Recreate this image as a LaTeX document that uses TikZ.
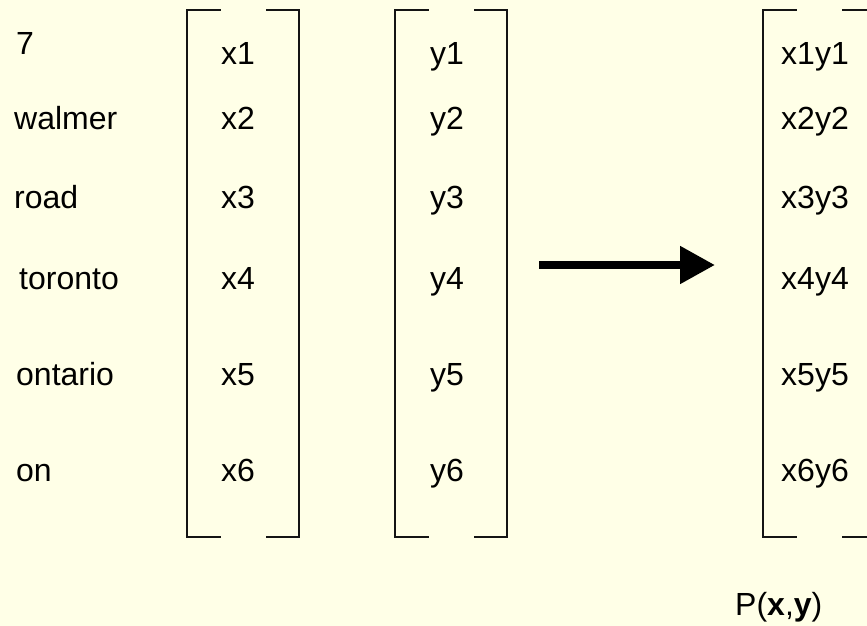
\documentclass[tikz,border=0pt]{standalone}
\usepackage{fontspec}
\setmainfont{Liberation Sans}
\usetikzlibrary{arrows.meta}
\definecolor{bg}{RGB}{255,255,231}
\definecolor{ink}{RGB}{20,20,20}
\tikzset{
  lbl/.style={anchor=base west, inner sep=0pt, font=\fontsize{32}{38}\selectfont, text=black},
  brk/.style={draw=ink, line width=2pt, line cap=rect},
  bigarrow/.style={line width=8pt, -{Triangle[length=35pt,width=36pt]}, black}
}
\begin{document}
\begin{tikzpicture}[x=1pt,y=-1pt]
\fill[bg] (0,0) rectangle (867,626);
\useasboundingbox (0,0) rectangle (867,626);
\clip (0,0) rectangle (867,626);
% words
\node[lbl] (w1) at (16,55) {7};
\node[lbl] (w2) at (14,129) {walmer};
\node[lbl] (w3) at (14,208) {road};
\node[lbl] (w4) at (19,289) {toronto};
\node[lbl] (w5) at (16,385) {ontario};
\node[lbl] (w6) at (16,481) {on};
% column x
\node[lbl] (x1) at (221,65) {x1};
\node[lbl] (x2) at (221,129) {x2};
\node[lbl] (x3) at (221,208) {x3};
\node[lbl] (x4) at (221,289) {x4};
\node[lbl] (x5) at (221,385) {x5};
\node[lbl] (x6) at (221,481) {x6};
% column y
\node[lbl] (y1) at (430,65) {y1};
\node[lbl] (y2) at (430,129) {y2};
\node[lbl] (y3) at (430,208) {y3};
\node[lbl] (y4) at (430,289) {y4};
\node[lbl] (y5) at (430,385) {y5};
\node[lbl] (y6) at (430,481) {y6};
% column xy
\node[lbl] (p1) at (781,65) {x1y1};
\node[lbl] (p2) at (781,129) {x2y2};
\node[lbl] (p3) at (781,208) {x3y3};
\node[lbl] (p4) at (781,289) {x4y4};
\node[lbl] (p5) at (781,385) {x5y5};
\node[lbl] (p6) at (781,481) {x6y6};
\node[lbl] (P) at (735,615) {P(\textbf{x},\textbf{y})};
% brackets
\draw[brk] (220,10) -- (187,10) -- (187,537) -- (220,537);
\draw[brk] (267,10) -- (299,10) -- (299,537) -- (267,537);
\draw[brk] (428,10) -- (395,10) -- (395,537) -- (428,537);
\draw[brk] (475,10) -- (507,10) -- (507,537) -- (475,537);
\draw[brk] (796,10) -- (763,10) -- (763,537) -- (796,537);
\draw[brk] (843,10) -- (875,10) -- (875,537) -- (843,537);
% arrow
\coordinate (as) at (539,265);
\coordinate (ae) at (715,265);
\draw[bigarrow] (as) -- (ae);
\end{tikzpicture}
\end{document}
